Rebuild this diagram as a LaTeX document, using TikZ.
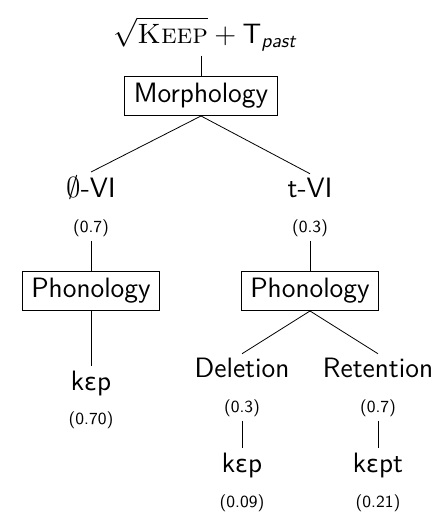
\documentclass[tikz,border=0pt]{standalone}
\usepackage{amsmath}
\usepackage{fontspec}
\newfontfamily\ipafont[Scale=0.85]{DejaVu Sans}
\usepackage{tikz}
\tikzset{
  link/.style={draw, -}, % a plain branch line
  module/.style={draw, inner xsep=4.5pt, inner ysep=3.5pt, font=\sffamily\fontsize{14}{16}\selectfont},
  form/.style={inner sep=2pt, font=\sffamily\fontsize{14}{16}\selectfont},
  prob/.style={inner sep=2pt, font=\sffamily\fontsize{8.5}{10}\selectfont}
}

\begin{document}
\begin{tikzpicture}[x=0.5pt, y=-0.5pt, every edge/.style={link}]
  \useasboundingbox (0,0) rectangle (437,512);

  % Input
  \node[form] (root) at (205,34) {$\sqrt{\text{\rmfamily\textsc{Keep}}}+\text{T}_{\text{\itshape past}}$};
  \node[module] (morph) at (201,96) {Morphology};

  % Vocabulary items
  \node[form] (zero) at (91,188) {$\emptyset$-VI};
  \node[form] (tvi) at (310,188) {t-VI};
  \node[prob] (pzero) at (91,228) {(0.7)};
  \node[prob] (ptvi) at (310,228) {(0.3)};

  % Phonology
  \node[module] (phonL) at (91,291) {Phonology};
  \node[module] (phonR) at (310,291) {Phonology};
  \node[form] (keepL) at (91,383) {k{\ipafont ɛ}p};
  \node[prob] (pkeepL) at (91,420) {(0.70)};
  \node[form] (del) at (242,368) {Deletion};
  \node[form] (ret) at (378,368) {Retention};
  \node[prob] (pdel) at (242,408) {(0.3)};
  \node[prob] (pret) at (378,408) {(0.7)};
  \node[form] (keepD) at (242,465) {k{\ipafont ɛ}p};
  \node[form] (keepR) at (378,465) {k{\ipafont ɛ}pt};
  \node[prob] (pkeepD) at (242,503) {(0.09)};
  \node[prob] (pkeepR) at (378,503) {(0.21)};

  % Connect
  \path (root.south -| morph.north) edge (morph)
        (morph.south) edge (zero.north)
        (morph.south) edge (tvi.north)
        (pzero) edge (phonL)
        (ptvi) edge (phonR)
        (phonL) edge (keepL)
        (phonR.south) edge (del.north)
        (phonR.south) edge (ret.north)
        (pdel) edge (keepD)
        (pret) edge (keepR);
\end{tikzpicture}
\end{document}
